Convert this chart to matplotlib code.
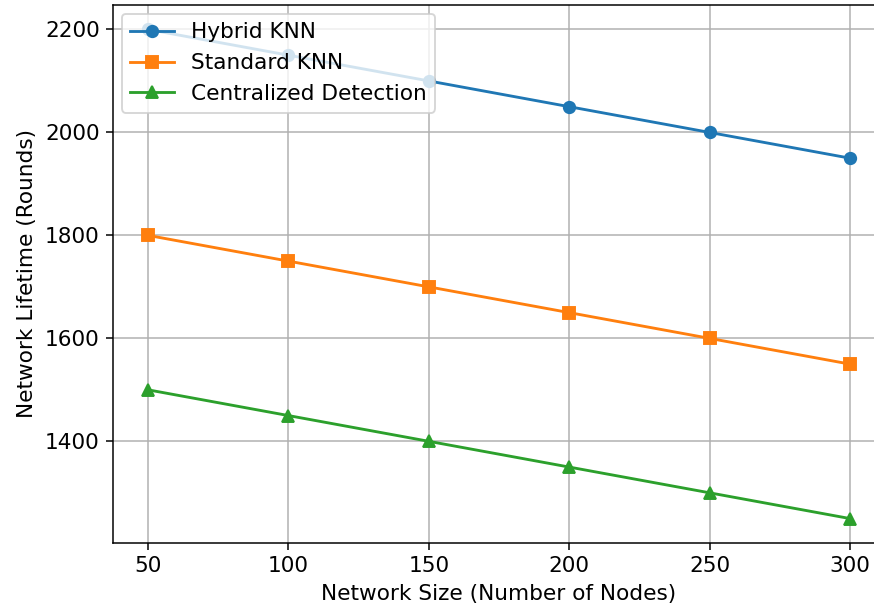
import matplotlib.pyplot as plt

network_size = [50, 100, 150, 200, 250, 300]
hybrid_knn = [2200, 2150, 2100, 2050, 2000, 1950]
standard_knn = [1800, 1750, 1700, 1650, 1600, 1550]
centralized = [1500, 1450, 1400, 1350, 1300, 1250]

plt.rcParams['font.size'] = 11.4

dpi = 874 / 6.4
fig = plt.figure(figsize=(6.4, 606 / dpi), dpi=dpi)
ax = fig.add_axes([113 / 874, 63 / 606, 772 / 874, 538 / 606])

ax.plot(network_size, hybrid_knn, marker='o', label='Hybrid KNN')
ax.plot(network_size, standard_knn, marker='s', label='Standard KNN')
ax.plot(network_size, centralized, marker='^', label='Centralized Detection')

ax.set_xlabel('Network Size (Number of Nodes)')
ax.set_ylabel('Network Lifetime (Rounds)')
ax.set_xticks(network_size)
ax.set_yticks([1400, 1600, 1800, 2000, 2200])
ax.grid(True)
ax.spines['right'].set_visible(False)  # cropped off in the original
ax.legend(loc='upper left', borderaxespad=0.4)

fig.savefig('out.png', dpi=dpi)
